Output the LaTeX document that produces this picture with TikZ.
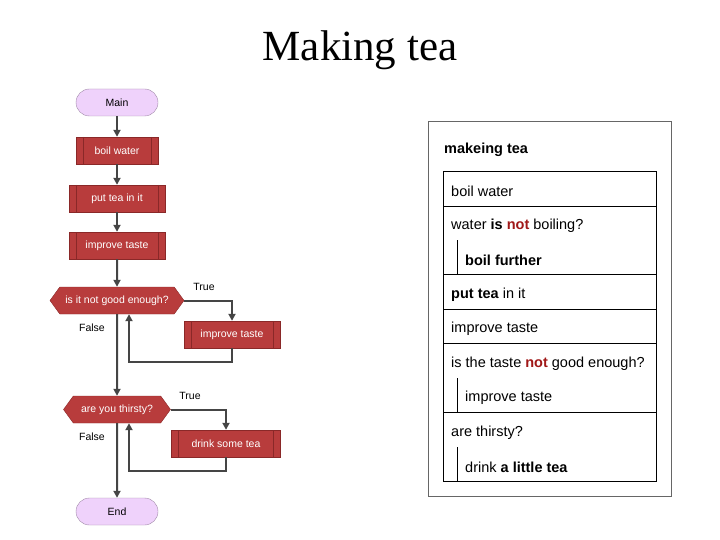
\documentclass[tikz,border=0pt]{standalone}
\usepackage{fontspec}
\setmainfont{Liberation Sans}
\newfontfamily\titlefont{Liberation Serif}
\usetikzlibrary{arrows.meta}
\usetikzlibrary{shapes.symbols}
\definecolor{boxred}{HTML}{B83C3C}
\definecolor{boxredline}{HTML}{8A2828}
\definecolor{termfill}{HTML}{EFD2FB}
\definecolor{termline}{HTML}{A08AA8}
\definecolor{flowgray}{HTML}{454545}
\definecolor{notred}{HTML}{A01818}
\newcommand{\notword}{\textcolor{notred}{\textbf{not}}}
\tikzset{terminal/.style = {draw=termline, fill=termfill, rounded corners=13.5pt,
                            minimum width=82pt, minimum height=27pt, inner sep=0pt,
                            font=\fontsize{10.5}{12}\selectfont},
         process/.style = {draw=boxredline, fill=boxred, text=white,
                           minimum height=27pt, inner sep=0pt,
                           font=\fontsize{10.5}{12}\selectfont,
                           path picture={
                             \draw[boxredline] ([xshift=7pt]path picture bounding box.north west)
                               -- ([xshift=7pt]path picture bounding box.south west);
                             \draw[boxredline] ([xshift=-7pt]path picture bounding box.north east)
                               -- ([xshift=-7pt]path picture bounding box.south east);}},
         decision/.style = {shape=signal, signal to=west and east, signal pointer angle=108,
                            draw=boxredline, fill=boxred, text=white,
                            minimum height=27pt, inner sep=0pt,
                            font=\fontsize{10.5}{12}\selectfont},
         flow/.style = {draw=flowgray, line width=2pt, -{Triangle[length=7pt,width=7pt]}},
         flowtext/.style = {font=\fontsize{10.5}{12}\selectfont, inner sep=0pt},
         nsdtext/.style = {anchor=west, inner sep=0pt, font=\fontsize{14.5}{16}\selectfont}}

\begin{document}
\begin{tikzpicture}[x=1pt, y=-1pt]
    \useasboundingbox (0, 0) rectangle (720, 540);
    \node (title) at (360, 50) {\titlefont\fontsize{43}{50}\selectfont Making tea};

    % flowchart
    \node (main) [terminal] at (117, 102.5) {Main};
    \node (boil) [process, minimum width=82pt] at (117, 150.5) {boil water};
    \node (puttea) [process, minimum width=96pt] at (117, 198.5) {put tea in it};
    \node (improve) [process, minimum width=96pt] at (117, 245.5) {improve taste};
    \node (notgood) [decision, minimum width=134pt] at (117, 300.5) {is it not good enough?};
    \node (improvetwo) [process, minimum width=96pt] at (232, 334.5) {improve taste};
    \node (thirsty) [decision, minimum width=107pt] at (117, 409.5) {are you thirsty?};
    \node (drink) [process, minimum width=109pt] at (226, 443.5) {drink some tea};
    \node (end) [terminal] at (117, 511.5) {End};

    \node (trueone) [flowtext] at (204, 287) {True};
    \node (falseone) [flowtext] at (92, 328) {False};
    \node (truetwo) [flowtext] at (190, 396) {True};
    \node (falsetwo) [flowtext] at (92, 437) {False};

    \draw [flow] (main) -- (boil);
    \draw [flow] (boil) -- (puttea);
    \draw [flow] (puttea) -- (improve);
    \draw [flow] (improve) -- (notgood);
    \draw [flow] (notgood.east) -| (improvetwo.north);
    \draw [flow] (improvetwo.south) -- ++(0, 14) -| ([xshift=12pt]notgood.south);
    \draw [flow] (notgood) -- (thirsty);
    \draw [flow] (thirsty.east) -| (drink.north);
    \draw [flow] (drink.south) -- ++(0, 14) -| ([xshift=12pt]thirsty.south);
    \draw [flow] (thirsty) -- (end);

    % structogram
    \draw [black!60, line width=0.8pt] (428, 121) rectangle (671, 496);
    \node (nsdtitle) [nsdtext, font=\fontsize{14.5}{16}\selectfont\bfseries] at (444, 150) {makeing tea};
    \draw [line width=0.8pt] (443, 171) rectangle (656, 481);
    \foreach \y in {206, 274, 309, 343, 412}
        \draw [line width=0.8pt] (443, \y) -- (656, \y);
    \foreach \y in {240, 378, 447}
        \draw [line width=0.8pt] (457, \y) -- (457, \y + 34);
    \node (rowboil) [nsdtext] at (451, 191) {boil water};
    \node (rowwater) [nsdtext] at (451, 226) {water \textbf{is} \notword{} boiling?};
    \node (rowfurther) [nsdtext] at (465, 260) {\textbf{boil further}};
    \node (rowput) [nsdtext] at (451, 295) {\textbf{put tea} in it};
    \node (rowimprove) [nsdtext] at (451, 329) {improve taste};
    \node (rowtaste) [nsdtext] at (451, 364) {is the taste \notword{} good enough?};
    \node (rowimprovetwo) [nsdtext] at (465, 398) {improve taste};
    \node (rowthirsty) [nsdtext] at (451, 433) {are thirsty?};
    \node (rowdrink) [nsdtext] at (465, 467) {drink \textbf{a little tea}};
\end{tikzpicture}
\end{document}
